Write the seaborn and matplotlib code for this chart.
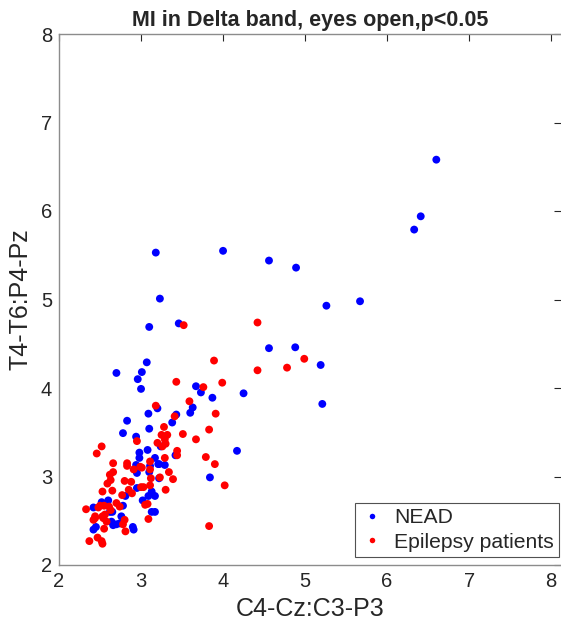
import numpy as np
import pandas as pd
import matplotlib
matplotlib.use("Agg")
import matplotlib.pyplot as plt
import seaborn as sns

# NEAD group
nead_x = [6.60, 6.41, 6.33, 5.26, 5.67, 5.19, 5.21, 3.18, 4.00, 4.56, 4.89, 3.23,
          3.10, 3.46, 4.56, 4.88, 3.07, 3.01, 2.70, 2.96, 3.67, 3.73, 4.25, 3.87,
          3.00, 3.20, 3.09, 3.43, 3.63, 3.60, 3.38, 3.10, 2.83, 2.78, 2.94, 3.08,
          2.98, 2.98, 3.17, 2.94, 3.11, 3.21, 4.17, 3.24, 3.42, 3.22, 3.29, 2.95,
          3.10, 3.22, 2.95, 3.13, 2.81, 3.02, 3.09, 3.17, 2.52, 2.60, 2.78, 2.42,
          2.62, 2.65, 2.76, 2.64, 2.66, 2.70, 2.74, 2.90, 2.91, 2.45, 2.42, 3.84,
          3.17, 3.13]
nead_y = [6.58, 5.94, 5.79, 4.93, 4.98, 4.26, 3.82, 5.53, 5.55, 5.44, 5.36, 5.01,
          4.69, 4.73, 4.45, 4.46, 4.29, 4.18, 4.17, 4.10, 4.02, 3.95, 3.94, 3.89,
          3.99, 3.77, 3.71, 3.70, 3.78, 3.72, 3.61, 3.54, 3.63, 3.49, 3.45, 3.30,
          3.27, 3.21, 3.21, 3.13, 3.12, 3.14, 3.29, 3.34, 3.24, 3.14, 3.13, 3.04,
          3.05, 2.98, 2.87, 2.83, 2.78, 2.73, 2.78, 2.78, 2.71, 2.73, 2.67, 2.65,
          2.60, 2.60, 2.55, 2.49, 2.45, 2.46, 2.47, 2.43, 2.40, 2.43, 2.40, 2.99,
          2.60, 2.60]

# Epilepsy group
epi_x = [4.99, 3.52, 4.42, 4.78, 4.42, 3.89, 3.43, 3.76, 3.99, 3.59, 3.18, 3.41,
         3.91, 3.28, 3.83, 3.51, 3.25, 3.32, 3.67, 3.29, 3.20, 3.30, 3.26, 3.44,
         3.44, 3.79, 3.90, 3.29, 2.95, 2.52, 2.46, 3.11, 2.66, 2.83, 3.01, 2.66,
         2.62, 2.83, 2.91, 2.99, 3.12, 2.63, 2.59, 2.80, 2.88, 3.00, 3.03, 3.11,
         2.53, 2.65, 2.85, 2.89, 2.77, 2.50, 2.55, 2.70, 2.74, 2.61, 2.63, 3.05,
         3.08, 2.33, 2.48, 2.56, 2.53, 2.44, 3.09, 2.42, 2.44, 2.54, 2.58, 2.80,
         2.78, 2.81, 2.55, 2.37, 2.47, 2.52, 2.53, 3.23, 3.34, 3.39, 3.30, 4.02,
         3.83, 3.11]
epi_y = [4.33, 4.71, 4.74, 4.23, 4.20, 4.31, 4.07, 4.01, 4.06, 3.85, 3.80, 3.68,
         3.71, 3.56, 3.53, 3.48, 3.47, 3.47, 3.42, 3.42, 3.38, 3.37, 3.34, 3.29,
         3.24, 3.22, 3.14, 3.21, 3.40, 3.34, 3.26, 3.17, 3.15, 3.15, 3.10, 3.05,
         3.02, 3.12, 3.08, 3.11, 2.98, 2.96, 2.92, 2.95, 2.94, 2.88, 2.88, 2.90,
         2.83, 2.84, 2.85, 2.81, 2.79, 2.67, 2.67, 2.70, 2.66, 2.66, 2.62, 2.68,
         2.69, 2.63, 2.65, 2.57, 2.55, 2.55, 2.52, 2.51, 2.53, 2.53, 2.49, 2.51,
         2.46, 2.38, 2.41, 2.27, 2.31, 2.27, 2.24, 2.99, 3.05, 2.97, 2.85, 2.90,
         2.44, 3.08]

groups = ["NEAD", "Epilepsy patients"]
colors = {"NEAD": "#0000ff", "Epilepsy patients": "#ff0000"}

df = pd.DataFrame({
    "x": nead_x + epi_x,
    "y": nead_y + epi_y,
    "group": [groups[0]] * len(nead_x) + [groups[1]] * len(epi_x),
})

sns.set_style("white")
plt.rcParams["font.family"] = ["Liberation Sans", "DejaVu Sans"]

fig = plt.figure(figsize=(5.61, 6.28), dpi=100)
ax = fig.add_axes([59 / 561, 63 / 628, 1 - 59 / 561, 531 / 628])

sns.scatterplot(data=df, x="x", y="y", hue="group", palette=colors,
                hue_order=groups, s=32, linewidth=0, ax=ax)

ax.set_xlim(2, 8.12)
ax.set_ylim(2, 8)
ax.set_xticks(range(2, 9))
ax.set_yticks(range(2, 9))
ax.tick_params(direction="in", length=5, width=0.8, color="#262626",
               labelsize=14.5, labelcolor="#262626", top=True, right=True,
               pad=5)
for side in ["left", "bottom", "top"]:
    ax.spines[side].set_color("#8c8c8c")
    ax.spines[side].set_linewidth(1.0)
ax.spines["right"].set_visible(False)

ax.set_xlabel("C4-Cz:C3-P3", fontsize=18, color="#262626", labelpad=4)
ax.set_ylabel("T4-T6:P4-Pz", fontsize=18, color="#262626", labelpad=6)
ax.set_title("MI in Delta band, eyes open,p<0.05", fontsize=15.5,
             fontweight="bold", pad=6)

leg = ax.legend(loc="lower right", fontsize=15.2, frameon=True, fancybox=False,
                markerscale=0.7, handletextpad=0.5, borderpad=0.25,
                labelspacing=0.25, handlelength=1.1, borderaxespad=0,
                bbox_to_anchor=(0.996, 0.015))
leg.get_frame().set_edgecolor("#262626")
leg.get_frame().set_linewidth(0.8)

fig.savefig("out.png", dpi=100)
